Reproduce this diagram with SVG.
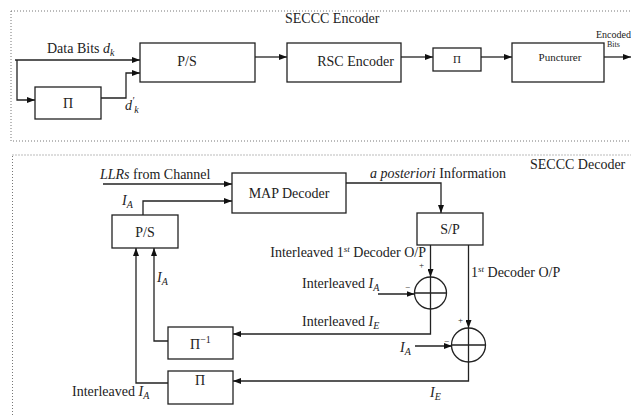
<svg xmlns="http://www.w3.org/2000/svg" width="631" height="415" viewBox="0 0 631 415">
<defs>
<marker id="ah" markerWidth="8" markerHeight="6" refX="8" refY="3" orient="auto" markerUnits="userSpaceOnUse">
<path d="M0,0 L8,3 L0,6 z" fill="#111"/>
</marker>
<style>
.frame{fill:none;stroke:#777;stroke-width:1;stroke-dasharray:1 2}
.box{fill:#fff;stroke:#222;stroke-width:1.3}
.sum{fill:none;stroke:#222;stroke-width:1.3}
.c{fill:none;stroke:#222;stroke-width:1.3}
.a{marker-end:url(#ah)}
text{font-family:"Liberation Serif","DejaVu Serif",serif;font-size:14px;fill:#222}
.m{text-anchor:middle}
.i{font-style:italic}
text.sm{font-size:9px}
text.f11{font-size:11px}
text.f10{font-size:10px}
text.f8{font-size:8px}
</style>
</defs>
<rect class="frame" x="11" y="11" width="640" height="130"/>
<rect class="frame" x="12.5" y="155" width="640" height="300"/>
<text x="285" y="23">SECCC Encoder</text>
<text x="530" y="169">SECCC Decoder</text>

<g id="connectors">
<path class="c a" d="M15,60 H140"/>
<path class="c a" d="M17,60 V100 H35"/>
<path class="c a" d="M101,98 H126 V73 H140"/>
<path class="c a" d="M255,57 H287"/>
<path class="c a" d="M401,57 H433"/>
<path class="c a" d="M481,57 H512"/>
<path class="c a" d="M604,57 H631"/>
<path class="c a" d="M103,184 H232"/>
<path class="c a" d="M143,215 V201 H232"/>
<path class="c a" d="M346,183 H441 V213"/>
<path class="c a" d="M430.5,245 V277"/>
<path class="c a" d="M468.5,245 V328"/>
<path class="c a" d="M378,294 H414.5"/>
<path class="c a" d="M415,346 H452"/>
<path class="c a" d="M430.5,309 V334 H233"/>
<path class="c a" d="M468.5,362 V381 H233"/>
<path class="c a" d="M168,341 H154 V248"/>
<path class="c a" d="M168,383 H136 V248"/>
</g>

<g id="enc_labels">
<text x="47" y="53">Data Bits <tspan class="i">d</tspan><tspan class="i" font-size="10" dy="3">k</tspan></text>
<text x="125" y="110" class="i">d<tspan font-size="10" dy="-6">′</tspan><tspan font-size="10" dy="9">k</tspan></text>
<text class="f10" x="596" y="38">Encoded</text>
<text class="f8" x="607" y="47">Bits</text>
</g>

<g id="enc_ps"><rect class="box" x="140" y="43" width="115" height="39"/><text class="m" x="187" y="66">P/S</text></g>
<g id="enc_pi_in"><rect class="box" x="35" y="87" width="66" height="32"/><text class="m" x="68" y="108">Π</text></g>
<g id="enc_rsc"><rect class="box" x="287" y="43" width="114" height="39"/><text class="m" x="355.5" y="66">RSC Encoder</text></g>
<g id="enc_pi"><rect class="box" x="433" y="48" width="48" height="23"/><text class="m f11" x="457" y="63">Π</text></g>
<g id="enc_punct"><rect class="box" x="512" y="43" width="92" height="39"/><text class="m f11" x="560" y="61">Puncturer</text></g>

<g id="dec_map"><rect class="box" x="232" y="173" width="114" height="40"/><text class="m" x="289" y="198">MAP Decoder</text></g>
<g id="dec_ps"><rect class="box" x="112" y="215" width="66" height="33"/><text class="m" x="145" y="237">P/S</text></g>
<g id="dec_sp"><rect class="box" x="417" y="213" width="66" height="32"/><text class="m" x="450" y="234">S/P</text></g>
<g id="dec_deint"><rect class="box" x="168" y="327" width="65" height="32"/><text x="190" y="349">Π<tspan font-size="10" dy="-6">−1</tspan></text></g>
<g id="dec_int"><rect class="box" x="168" y="371" width="65" height="33"/><text class="m" x="200" y="385">Π</text></g>
<g id="sum1"><circle class="sum" cx="430.5" cy="293" r="16"/><path class="sum" d="M414.5,293 H446.5 M430.5,277 V309"/><text class="sm" x="419" y="268">+</text><text class="sm" x="405" y="290">−</text></g>
<g id="sum2"><circle class="sum" cx="468.5" cy="345" r="17"/><path class="sum" d="M451.5,345 H485.5 M468.5,328 V362"/><text class="sm" x="458" y="323">+</text><text class="sm" x="444" y="344">−</text></g>

<g id="dec_labels">
<text x="100" y="179"><tspan class="i">LLRs</tspan> from Channel</text>
<text x="122" y="205" class="i">I<tspan font-size="10" dy="3">A</tspan></text>
<text x="370" y="178"><tspan class="i">a posteriori</tspan> Information</text>
<text x="426" y="257" text-anchor="end">Interleaved 1<tspan class="i" font-size="9" dy="-5">st</tspan><tspan dy="5"> Decoder O/P</tspan></text>
<text x="471" y="277">1<tspan class="i" font-size="9" dy="-5">st</tspan><tspan dy="5"> Decoder O/P</tspan></text>
<text x="302" y="288">Interleaved <tspan class="i">I</tspan><tspan class="i" font-size="10" dy="3">A</tspan></text>
<text x="302" y="326">Interleaved <tspan class="i">I</tspan><tspan class="i" font-size="10" dy="3">E</tspan></text>
<text x="400" y="352" class="i">I<tspan font-size="10" dy="3">A</tspan></text>
<text x="430" y="397" class="i">I<tspan font-size="10" dy="3">E</tspan></text>
<text x="157" y="282" class="i">I<tspan font-size="10" dy="3">A</tspan></text>
<text x="72" y="396">Interleaved <tspan class="i">I</tspan><tspan class="i" font-size="10" dy="3">A</tspan></text>
</g>
</svg>
